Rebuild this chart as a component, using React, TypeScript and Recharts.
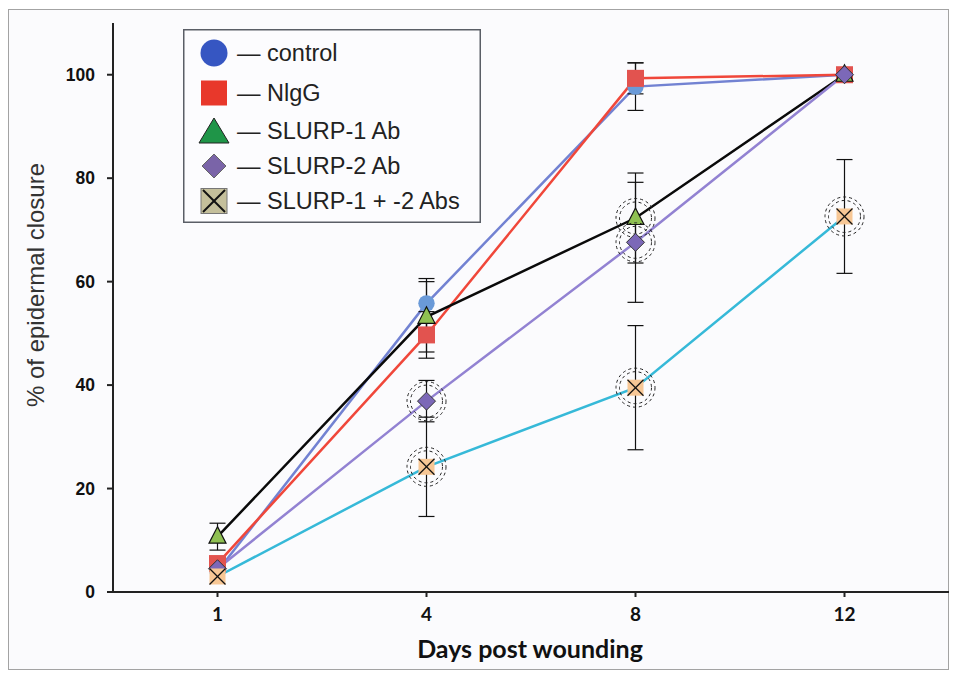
import React from "react";
import { LineChart, Line, XAxis, YAxis, ErrorBar } from "recharts";

// ---------- data ----------
const days = ["1", "4", "8", "12"];
const yTicks = [0, 20, 40, 60, 80, 100];

const control = [4, 55.8, 97.7, 100];
const controlErr = [0, 4.8, 4.6, 0];

const nigg = [5.5, 49.7, 99.3, 100];
const niggErr = [0, 4.5, 3, 0];

const slurp1 = [10.7, 53.2, 72.3, 100];
const slurp1Err = [2.6, 6.8, 8.7, 0];
const slurp1Sig = [false, false, true, false];

const slurp2 = [4.5, 36.9, 67.6, 100];
const slurp2Err = [0, 4, 11.6, 0];
const slurp2Sig = [false, true, true, false];

const combo = [3, 24.2, 39.5, 72.6];
const comboErr = [0, 9.6, 12, 11];
const comboSig = [false, true, true, true];

const seriesNames = ["control", "NlgG", "SLURP-1 Ab", "SLURP-2 Ab", "SLURP-1 + -2 Abs"];

const data = days.map((d, i) => ({
  day: d,
  control: control[i],
  controlErr: controlErr[i] || undefined,
  nigg: nigg[i],
  niggErr: niggErr[i] || undefined,
  slurp1: slurp1[i],
  slurp1Err: slurp1Err[i] || undefined,
  slurp2: slurp2[i],
  slurp2Err: slurp2Err[i] || undefined,
  combo: combo[i],
  comboErr: comboErr[i] || undefined,
}));

// ---------- markers ----------
type Kind = "circle" | "square" | "triangle" | "diamond" | "xbox";

function marker(kind: Kind, cx: number, cy: number) {
  switch (kind) {
    case "circle":
      return <circle cx={cx} cy={cy} r={8.2} fill="#6a9ad8" />;
    case "square":
      return <rect x={cx - 8.5} y={cy - 8.5} width={17} height={17} fill="#e2534f" />;
    case "triangle":
      return (
        <polygon
          points={`${cx},${cy - 10} ${cx - 8.5},${cy + 6.5} ${cx + 8.5},${cy + 6.5}`}
          fill="#8fc052"
          stroke="#111"
          strokeWidth={1.2}
        />
      );
    case "diamond":
      return (
        <polygon
          points={`${cx},${cy - 9} ${cx + 9},${cy} ${cx},${cy + 9} ${cx - 9},${cy}`}
          fill="#7c68b8"
          stroke="#333"
          strokeWidth={1}
        />
      );
    case "xbox":
      return (
        <g>
          <rect x={cx - 8} y={cy - 8} width={16} height={16} fill="#f7c795" />
          <line x1={cx - 8} y1={cy - 8} x2={cx + 8} y2={cy + 8} stroke="#111" strokeWidth={1.3} />
          <line x1={cx - 8} y1={cy + 8} x2={cx + 8} y2={cy - 8} stroke="#111" strokeWidth={1.3} />
        </g>
      );
  }
  return null;
}

function makeDot(kind: Kind, sig?: boolean[]) {
  return (props: any) => {
    const { cx, cy, index } = props;
    if (cx == null || cy == null) return <g key={`${kind}-${index}`} />;
    const isSig = sig ? sig[index] : false;
    return (
      <g key={`${kind}-${index}`}>
        {isSig && (
          <g fill="none" stroke="#222" strokeWidth={1} strokeDasharray="3 3">
            <circle cx={cx} cy={cy} r={16} />
            <circle cx={cx} cy={cy} r={19.5} />
          </g>
        )}
        {marker(kind, cx, cy)}
      </g>
    );
  };
}

// ---------- legend ----------
const legendRowsY = [24, 64, 102, 137, 172];

function legendMarker(i: number, cx: number, cy: number) {
  switch (i) {
    case 0:
      return <circle cx={cx} cy={cy} r={13.5} fill="#3656c2" />;
    case 1:
      return <rect x={cx - 13} y={cy - 12.5} width={26} height={25} fill="#e8382b" />;
    case 2:
      return (
        <polygon
          points={`${cx},${cy - 13} ${cx - 15},${cy + 12} ${cx + 15},${cy + 12}`}
          fill="#1f9548"
          stroke="#222"
          strokeWidth={1}
        />
      );
    case 3:
      return (
        <polygon
          points={`${cx},${cy - 12} ${cx + 12},${cy} ${cx},${cy + 12} ${cx - 12},${cy}`}
          fill="#7a64a8"
          stroke="#666"
          strokeWidth={1}
        />
      );
    default:
      return (
        <g>
          <rect x={cx - 13} y={cy - 12.5} width={26} height={25} fill="#c4bf9b" stroke="#777" strokeWidth={1} />
          <line x1={cx - 11} y1={cy - 11} x2={cx + 11} y2={cy + 11} stroke="#111" strokeWidth={2} />
          <line x1={cx - 11} y1={cy + 11} x2={cx + 11} y2={cy - 11} stroke="#111" strokeWidth={2} />
        </g>
      );
  }
}

function LegendBox() {
  return (
    <svg width={298} height={194} style={{ display: "block" }}>
      <rect x={0.75} y={0.75} width={296.5} height={192.5} fill="#fcfcfe" stroke="#5a5e66" strokeWidth={1.5} />
      {seriesNames.map((name, i) => (
        <g key={name}>
          {legendMarker(i, 31, legendRowsY[i])}
          <text
            x={54}
            y={legendRowsY[i]}
            dy="0.36em"
            fontFamily="'Liberation Sans', Arial, sans-serif"
            fontSize={23.5}
            fill="#222"
          >
            {"\u2014 " + name}
          </text>
        </g>
      ))}
    </svg>
  );
}

// ---------- chart ----------
export default function App() {
  return (
    <div style={{ position: "absolute", left: 0, top: 0, width: 956, height: 677, background: "#ffffff" }}>
      <div
        style={{
          position: "absolute",
          left: 8,
          top: 9,
          width: 939,
          height: 659,
          border: "1.5px solid #a3a3a3",
          background: "#fbfbfd",
        }}
      />
      <div style={{ position: "absolute", left: 0, top: 0 }}>
        <LineChart width={956} height={677} data={data} margin={{ top: 23, right: 7, bottom: 55, left: 0 }}>
          <XAxis
            dataKey="day"
            height={30}
            padding={{ left: 104.5, right: 104.5 }}
            stroke="#222"
            strokeWidth={2}
            tickSize={5}
            tickMargin={11}
            tick={{ fontFamily: "Lato, sans-serif", fontWeight: 700, fontSize: 19, fill: "#111" }}
            label={{
              content: () => (
                <text
                  x={530}
                  y={658}
                  textAnchor="middle"
                  fontFamily="Lato, sans-serif"
                  fontWeight={700}
                  fontSize={25}
                  fill="#111"
                >
                  Days post wounding
                </text>
              ),
            }}
          />
          <YAxis
            width={113}
            domain={[0, 110]}
            ticks={yTicks}
            allowDataOverflow
            stroke="#222"
            strokeWidth={2}
            tickSize={6}
            tickMargin={12}
            tick={{ fontFamily: "'Liberation Sans', Arial, sans-serif", fontWeight: 700, fontSize: 17.5, fill: "#111" }}
            label={{
              content: () => (
                <text
                  x={44}
                  y={285}
                  transform="rotate(-90 44 285)"
                  textAnchor="middle"
                  fontFamily="'Liberation Sans', Arial, sans-serif"
                  fontSize={24}
                  fill="#333"
                >
                  % of epidermal closure
                </text>
              ),
            }}
          />
          <Line
            dataKey="control"
            name={seriesNames[0]}
            stroke="#7282d2"
            strokeWidth={2.5}
            isAnimationActive={false}
            dot={makeDot("circle")}
            activeDot={false}
          >
            <ErrorBar dataKey="controlErr" width={8} stroke="#111" strokeWidth={1.2} direction="y" />
          </Line>
          <Line
            dataKey="nigg"
            name={seriesNames[1]}
            stroke="#f0473a"
            strokeWidth={2.5}
            isAnimationActive={false}
            dot={makeDot("square")}
            activeDot={false}
          >
            <ErrorBar dataKey="niggErr" width={8} stroke="#111" strokeWidth={1.2} direction="y" />
          </Line>
          <Line
            dataKey="slurp1"
            name={seriesNames[2]}
            stroke="#0a0a0a"
            strokeWidth={2.5}
            isAnimationActive={false}
            dot={makeDot("triangle", slurp1Sig)}
            activeDot={false}
          >
            <ErrorBar dataKey="slurp1Err" width={8} stroke="#111" strokeWidth={1.2} direction="y" />
          </Line>
          <Line
            dataKey="slurp2"
            name={seriesNames[3]}
            stroke="#9282d2"
            strokeWidth={2.5}
            isAnimationActive={false}
            dot={makeDot("diamond", slurp2Sig)}
            activeDot={false}
          >
            <ErrorBar dataKey="slurp2Err" width={8} stroke="#111" strokeWidth={1.2} direction="y" />
          </Line>
          <Line
            dataKey="combo"
            name={seriesNames[4]}
            stroke="#36b9d8"
            strokeWidth={2.5}
            isAnimationActive={false}
            dot={makeDot("xbox", comboSig)}
            activeDot={false}
          >
            <ErrorBar dataKey="comboErr" width={8} stroke="#111" strokeWidth={1.2} direction="y" />
          </Line>
        </LineChart>
      </div>
      <div style={{ position: "absolute", left: 183, top: 29 }}>
        <LegendBox />
      </div>
    </div>
  );
}
